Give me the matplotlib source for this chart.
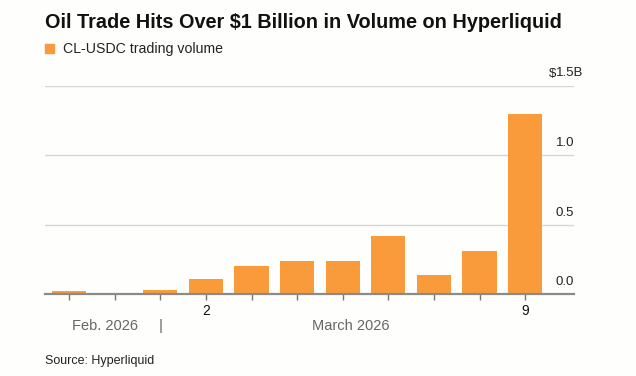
import numpy as np
import matplotlib.pyplot as plt
from matplotlib import transforms

# data (billions of USD)
days = ["27", "28", "1", "2", "3", "4", "5", "6", "7", "8", "9"]
volume = [0.022, 0.010, 0.032, 0.11, 0.20, 0.24, 0.24, 0.415, 0.14, 0.31, 1.297]
shown_days = ["2", "9"]
y_ticks = [0.0, 0.5, 1.0, 1.5]
y_labels = ["0.0", "0.5", "1.0", "1.5B"]
months = ["Feb. 2026", "March 2026"]

W, H = 636, 376
plt.rcParams['font.family'] = ['Liberation Sans', 'DejaVu Sans']
fig = plt.figure(figsize=(W / 100, H / 100), dpi=100)
fig.patch.set_facecolor('#fefefd')

def px(x, y):
    return x / W, 1 - y / H

left, right, top, base = 45, 574, 85.5, 294
ax = fig.add_axes([left / W, 1 - base / H, (right - left) / W, (base - top) / H])
ax.set_facecolor('none')

x = np.arange(len(days))
ax.bar(x, volume, width=0.75, color='#fa9b3b', zorder=2)
ax.set_xlim(-0.53, 11.07)
ax.set_ylim(0, 1.5)

for s in ['top', 'right', 'left']:
    ax.spines[s].set_visible(False)
ax.spines['bottom'].set_color('#8a8a8a')
ax.spines['bottom'].set_linewidth(1.6)
ax.spines['bottom'].set_zorder(3)

ax.set_yticks(y_ticks)
ax.set_yticklabels([])
ax.tick_params(axis='y', length=0)
ax.grid(axis='y', color='#d6d6d6', linewidth=1)
ax.set_axisbelow(True)

# y labels sit above gridlines, at the right
off = transforms.ScaledTranslation(0, 12 / 100, fig.dpi_scale_trans)
ytr = ax.get_yaxis_transform() + off
lx = (556 - left) / (right - left)
for v, lab in zip(y_ticks, y_labels):
    ax.text(lx, v, lab, transform=ytr, ha='left', va='center', fontsize=9.5, color='#222222')
ax.text(lx, 1.5, "$", transform=ytr, ha='right', va='center', fontsize=9.5, color='#222222')

# x ticks
ax.set_xticks(x)
ax.set_xticklabels([d if d in shown_days else "" for d in days], fontsize=10, color='#111111')
ax.tick_params(axis='x', length=4, width=1, color='#777777', pad=3)
ax.set_xticks([2], minor=True)
ax.tick_params(axis='x', which='minor', length=7, width=1, color='#777777')

# month labels
xtr = ax.get_xaxis_transform()
ax.text(0.79, -0.155, months[0], transform=xtr, ha='center', va='center',
        fontsize=10.5, color='#666666')
ax.text(6.18, -0.155, months[1], transform=xtr, ha='center', va='center',
        fontsize=10.5, color='#666666')
ax.text(2, -0.155, "|", transform=xtr, ha='center', va='center', fontsize=11, color='#666666')

# title, legend, source
fig.text(*px(45, 22), "Oil Trade Hits Over $1 Billion in Volume on Hyperliquid",
         fontsize=14.3, fontweight='bold', ha='left', va='center', color='#111111')
fig.patches.append(plt.Rectangle(px(45, 53), 9 / W, 9 / H, transform=fig.transFigure,
                                 color='#fa9b3b', figure=fig))
fig.text(*px(63, 49), "CL-USDC trading volume", fontsize=10.2, ha='left', va='center',
         color='#222222')
fig.text(*px(45, 361), "Source: Hyperliquid", fontsize=9, ha='left', va='center',
         color='#222222')

fig.savefig('out.png', dpi=100, facecolor=fig.get_facecolor())
